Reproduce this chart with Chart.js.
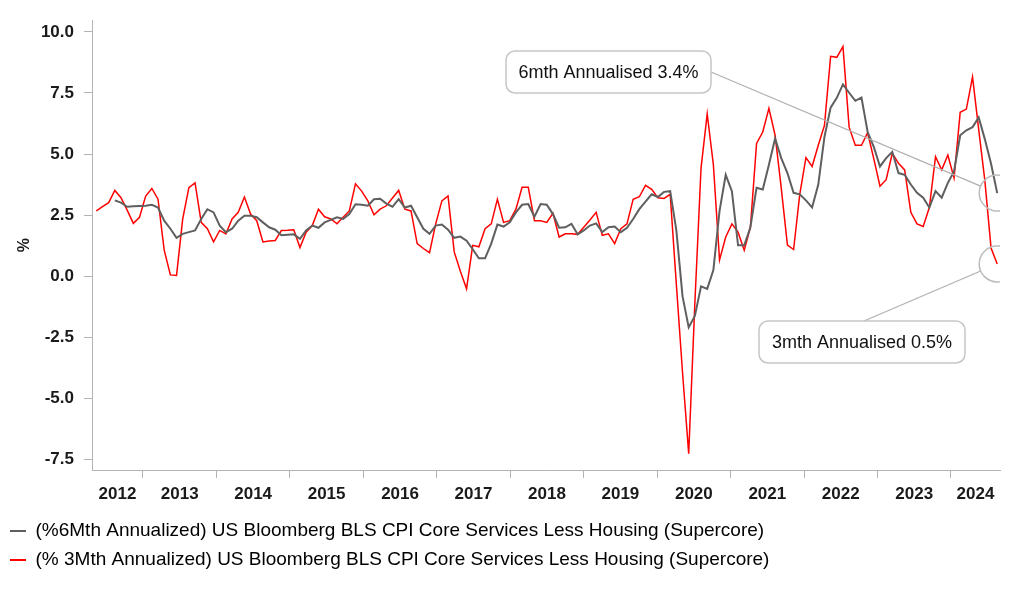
<!DOCTYPE html>
<html>
<head>
<meta charset="utf-8">
<script src="https://cdn.jsdelivr.net/npm/chart.js@4.4.1/dist/chart.umd.min.js"></script>
<style>
html,body{margin:0;padding:0;background:#ffffff;}
#wrap{width:1022px;height:597px;position:relative;}
</style>
</head>
<body>
<div id="wrap"><canvas id="c" width="1022" height="597"></canvas></div>
<script>
// ---- data (monthly, May 2012 .. Jul 2024) ----
const startYear = 2012;
const startMonth = 5;

const supercore6m = [
  null, null, null, 3.10, 3.01, 2.84, 2.86, 2.87, 2.88, 2.92,
  2.81, 2.27, 1.94, 1.57, 1.73, 1.80, 1.87, 2.34, 2.74, 2.61,
  2.07, 1.80, 1.94, 2.27, 2.47, 2.47, 2.41, 2.20, 2.00, 1.90,
  1.67, 1.69, 1.71, 1.53, 1.87, 2.07, 1.98, 2.20, 2.30, 2.41,
  2.34, 2.54, 2.94, 2.92, 2.88, 3.15, 3.17, 2.97, 2.84, 3.15,
  2.81, 2.88, 2.41, 1.94, 1.73, 2.07, 2.11, 1.90, 1.57, 1.62,
  1.45, 1.10, 0.73, 0.73, 1.33, 2.11, 2.03, 2.20, 2.61, 2.92,
  2.95, 2.43, 2.95, 2.92, 2.54, 1.98, 2.00, 2.14, 1.71, 1.87,
  2.07, 2.16, 1.80, 2.00, 2.03, 1.80, 1.98, 2.34, 2.74, 3.05,
  3.35, 3.24, 3.45, 3.48, 1.87, -0.82, -2.10, -1.63, -0.42, -0.52,
  0.25, 2.67, 4.15, 3.48, 1.26, 1.26, 2.00, 3.62, 3.55, 4.56,
  5.63, 4.83, 4.22, 3.41, 3.35, 3.10, 2.81, 3.75, 5.70, 6.90,
  7.30, 7.85, 7.51, 7.18, 7.31, 5.90, 5.29, 4.49, 4.83, 5.09,
  4.22, 4.15, 3.75, 3.41, 3.21, 2.81, 3.48, 3.21, 3.82, 4.29,
  5.77, 5.97, 6.10, 6.50, 5.60, 4.60, 3.40
];

const supercore3m = [
  2.67, 2.85, 3.01, 3.51, 3.21, 2.70, 2.16, 2.41, 3.28, 3.59,
  3.15, 1.06, 0.05, 0.03, 2.34, 3.62, 3.82, 2.20, 1.94, 1.40,
  1.87, 1.73, 2.34, 2.61, 3.24, 2.54, 2.27, 1.40, 1.44, 1.46,
  1.87, 1.88, 1.90, 1.17, 1.80, 2.07, 2.74, 2.43, 2.34, 2.14,
  2.41, 2.67, 3.78, 3.48, 3.08, 2.51, 2.74, 2.88, 3.20, 3.51,
  2.74, 2.67, 1.33, 1.13, 0.96, 2.14, 3.08, 3.28, 0.99, 0.20,
  -0.52, 1.26, 1.20, 1.94, 2.14, 3.15, 2.20, 2.27, 2.74, 3.64,
  3.64, 2.27, 2.27, 2.20, 2.57, 1.60, 1.73, 1.73, 1.71, 2.00,
  2.30, 2.61, 1.67, 1.73, 1.33, 1.94, 2.14, 3.15, 3.25, 3.72,
  3.55, 3.21, 3.18, 3.35, -0.34, -3.95, -7.27, -1.10, 4.42, 6.64,
  4.56, 0.66, 1.60, 2.14, 1.80, 1.06, 2.00, 5.43, 5.90, 6.87,
  5.77, 3.60, 1.27, 1.09, 3.35, 4.85, 4.49, 5.36, 6.17, 9.00,
  8.96, 9.40, 6.10, 5.36, 5.36, 5.87, 4.80, 3.68, 3.95, 5.03,
  4.62, 4.35, 2.61, 2.14, 2.03, 2.81, 4.89, 4.35, 4.96, 4.02,
  6.71, 6.84, 8.16, 6.00, 3.90, 1.15, 0.50
];

const yearLabels = ['2012','2013','2014','2015','2016','2017','2018','2019','2020','2021','2022','2023','2024'];
const yTickValues = [-7.5, -5.0, -2.5, 0.0, 2.5, 5.0, 7.5, 10.0];
const seriesNames = [
  '(%6Mth Annualized) US Bloomberg BLS CPI Core Services Less Housing (Supercore)',
  '(% 3Mth Annualized) US Bloomberg BLS CPI Core Services Less Housing (Supercore)'
];
const calloutLabels = ['6mth Annualised', '3mth Annualised'];

// ---- axis ranges ----
const monthPos = supercore3m.map((_, i) => (startYear - 2012) * 12 + (startMonth - 1) + i);
const xMin = monthPos[0] - 0.7;
const xMax = monthPos[monthPos.length - 1] + 0.45;
// calendar (year) axis shown under the plot
const yearAxisMin = 2012.306;
const yearAxisMax = 2024.668;

const toPoints = arr => arr.map((v, i) => ({x: monthPos[i], y: v}));

const FONT = "'Liberation Sans', Arial, Helvetica, sans-serif";
Chart.defaults.font.family = FONT;
Chart.defaults.color = '#1a1a1a';
const axisGrey = '#b3b3b3';

const calloutPlugin = {
  id: 'callouts',
  afterDatasetsDraw(chart) {
    const ctx = chart.ctx, area = chart.chartArea;
    const specs = [
      {ds: 0, series: supercore6m, text: calloutLabels[0], box: {x: 506, y: 51, w: 205, h: 42}, anchor: 'right'},
      {ds: 1, series: supercore3m, text: calloutLabels[1], box: {x: 759, y: 321, w: 206, h: 42}, anchor: 'top'}
    ];
    specs.forEach(sp => {
      const meta = chart.getDatasetMeta(sp.ds);
      const pt = meta.data[meta.data.length - 1];
      const cx = pt.x, cy = pt.y, r = 18;
      ctx.save();
      ctx.beginPath();
      ctx.rect(area.left, area.top, area.right - area.left, area.bottom - area.top);
      ctx.clip();
      ctx.beginPath();
      ctx.arc(cx, cy, r, 0, Math.PI * 2);
      ctx.strokeStyle = '#bcbcbc';
      ctx.lineWidth = 1.5;
      ctx.stroke();
      ctx.restore();

      const b = sp.box;
      const ax = sp.anchor === 'right' ? b.x + b.w : b.x + b.w / 2 + 2;
      const ay = sp.anchor === 'right' ? b.y + b.h / 2 : b.y;
      const dx = ax - cx, dy = ay - cy, d = Math.hypot(dx, dy);
      ctx.save();
      ctx.beginPath();
      ctx.moveTo(cx + dx / d * r, cy + dy / d * r);
      ctx.lineTo(ax, ay);
      ctx.strokeStyle = '#b0b0b0';
      ctx.lineWidth = 1.2;
      ctx.stroke();

      ctx.beginPath();
      ctx.roundRect(b.x, b.y, b.w, b.h, 9);
      ctx.fillStyle = '#ffffff';
      ctx.fill();
      ctx.strokeStyle = '#c6c6c6';
      ctx.lineWidth = 1.5;
      ctx.stroke();

      const last = sp.series[sp.series.length - 1];
      ctx.fillStyle = '#111111';
      ctx.font = '18px ' + FONT;
      ctx.textAlign = 'center';
      ctx.textBaseline = 'middle';
      ctx.fillText(sp.text + ' ' + last.toFixed(1) + '%', b.x + b.w / 2, b.y + b.h / 2 + 1);
      ctx.restore();
    });
  }
};

new Chart(document.getElementById('c'), {
  type: 'line',
  data: {
    datasets: [
      {label: seriesNames[0], data: toPoints(supercore6m), borderColor: '#5f5f5f', backgroundColor: '#5f5f5f',
       borderWidth: 2, pointRadius: 0, tension: 0, order: 0, xAxisID: 'x', yAxisID: 'y'},
      {label: seriesNames[1], data: toPoints(supercore3m), borderColor: '#ff0000', backgroundColor: '#ff0000',
       borderWidth: 1.5, pointRadius: 0, tension: 0, order: 1, xAxisID: 'x', yAxisID: 'y'}
    ]
  },
  options: {
    responsive: false,
    animation: false,
    layout: {padding: {top: 13, right: 22, bottom: 17.5, left: 0}},
    plugins: {
      tooltip: {enabled: false},
      legend: {
        position: 'bottom',
        align: 'start',
        labels: {
          boxWidth: 16,
          boxHeight: 2,
          padding: 10,
          color: '#1a1a1a',
          font: {size: 19},
          generateLabels: chart => chart.data.datasets.map((d, i) => ({
            text: d.label, fillStyle: d.borderColor, strokeStyle: d.borderColor,
            lineWidth: 0, datasetIndex: i, hidden: false
          }))
        }
      }
    },
    scales: {
      x: {
        type: 'linear',
        display: false,
        min: xMin,
        max: xMax
      },
      years: {
        type: 'linear',
        position: 'bottom',
        min: yearAxisMin,
        max: yearAxisMax,
        afterBuildTicks: scale => {
          const t = [];
          yearLabels.forEach((y, k) => {
            const yr = parseInt(y, 10);
            const s = Math.max(yr, yearAxisMin), e = Math.min(yr + 1, yearAxisMax);
            t.push({value: (s + e) / 2, yl: y});
            if (k > 0) t.push({value: yr, mark: true});
          });
          t.sort((a, b) => a.value - b.value);
          scale.ticks = t;
        },
        ticks: {
          autoSkip: false,
          maxRotation: 0,
          padding: 6,
          color: '#1a1a1a',
          font: {size: 17, weight: 'bold'},
          callback: (v, i, ticks) => ticks[i].yl || ''
        },
        grid: {
          drawOnChartArea: false,
          drawTicks: true,
          tickLength: 8,
          tickColor: c => (c.tick && c.tick.mark) ? axisGrey : 'rgba(0,0,0,0)'
        },
        border: {display: true, color: axisGrey, width: 1},
        afterFit: s => { s.height = 41.5; }
      },
      y: {
        type: 'linear',
        min: -7.94,
        max: 10.48,
        afterBuildTicks: scale => { scale.ticks = yTickValues.map(v => ({value: v})); },
        ticks: {
          padding: 10,
          color: '#1a1a1a',
          font: {size: 17, weight: 'bold'},
          callback: v => Number(v).toFixed(1)
        },
        grid: {drawOnChartArea: false, drawTicks: true, tickLength: 8, tickColor: axisGrey},
        border: {display: true, color: axisGrey, width: 1},
        title: {display: true, text: '%', color: '#1a1a1a', font: {size: 16, weight: 'bold'}, padding: {top: 15, bottom: 0}},
        afterFit: s => { s.width = 92; }
      }
    }
  },
  plugins: [calloutPlugin]
});
</script>
</body>
</html>
